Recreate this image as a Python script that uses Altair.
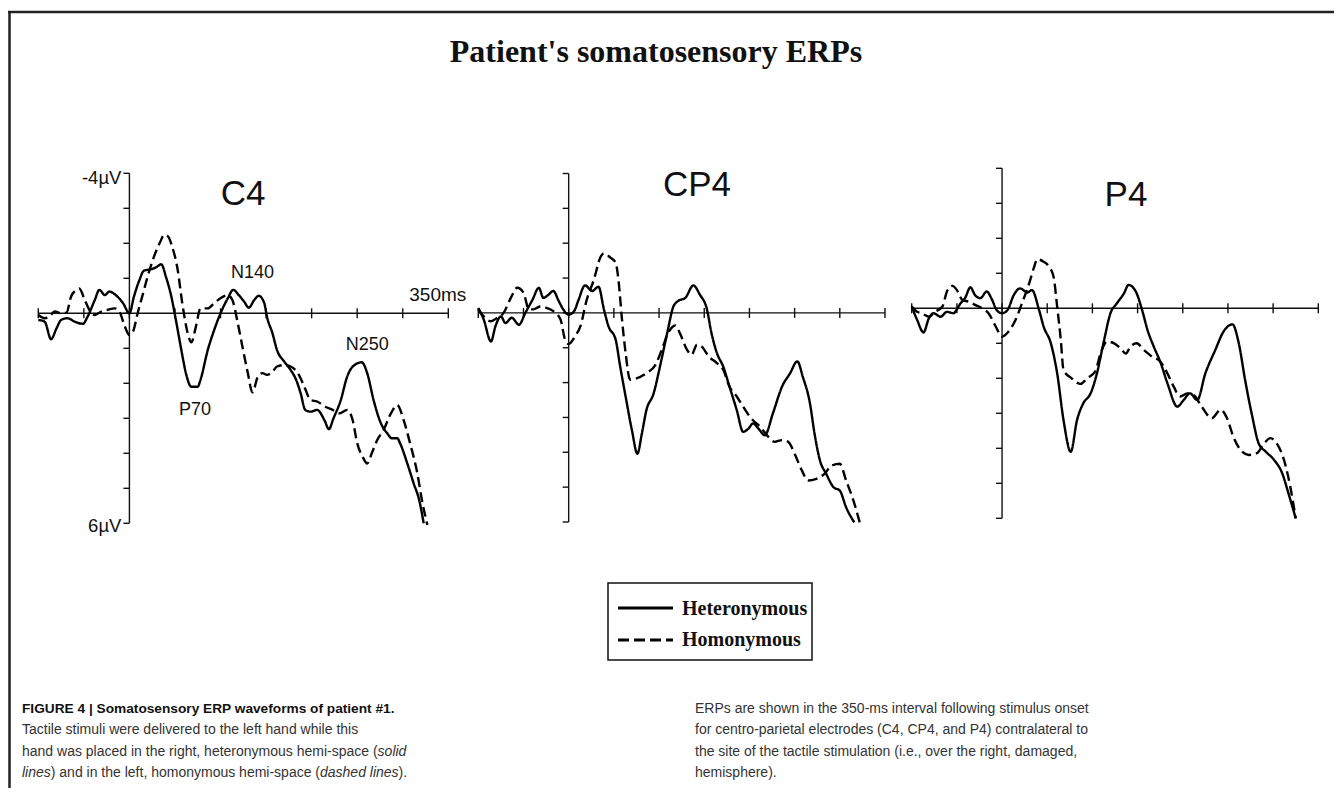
import altair as alt
import pandas as pd

# ---------------- data ----------------
CONDITIONS = ["Heteronymous", "Homonymous"]
TIME_TICKS = [-100, -50, 0, 50, 100, 150, 200, 250, 300, 350]
UV_TICKS = [-4, -3, -2, -1, 0, 1, 2, 3, 4, 5, 6]

C4_HET_T = [-100, -93, -86, -80, -75, -68, -60, -51, -46, -38, -33, -27, -22, -15, -7, 0, 5, 11, 16, 24, 29, 35, 40, 46, 51, 57, 62, 68, 75, 78, 86, 93, 100, 108, 114, 120, 126, 131, 137, 142, 148, 151, 157, 162, 170, 177, 183, 188, 193, 199, 206, 214, 219, 224, 232, 239, 246, 255, 261, 268, 276, 283, 288, 294, 297, 305, 312, 318, 323]
C4_HET_V = [0.19, 0.24, 0.74, 0.43, 0.19, 0.14, 0.24, 0.30, 0.10, -0.38, -0.67, -0.52, -0.62, -0.52, -0.29, 0.0, -0.48, -0.95, -1.22, -1.26, -1.31, -1.40, -1.05, -0.48, 0.19, 1.05, 1.71, 2.10, 2.10, 1.90, 1.05, 0.48, 0.0, -0.43, -0.67, -0.52, -0.33, -0.16, -0.38, -0.50, -0.29, 0.10, 0.57, 1.05, 1.38, 1.62, 1.90, 2.29, 2.76, 2.81, 2.76, 3.05, 3.31, 3.00, 2.48, 1.81, 1.50, 1.40, 1.71, 2.48, 3.14, 3.43, 3.57, 3.57, 3.71, 4.29, 4.86, 5.33, 6.00]
C4_HOM_T = [-100, -93, -88, -82, -75, -69, -64, -58, -55, -49, -44, -38, -31, -24, -16, -11, -5, 0, 4, 9, 15, 20, 27, 34, 38, 42, 47, 53, 58, 64, 68, 73, 78, 86, 93, 100, 108, 113, 119, 124, 130, 135, 141, 146, 151, 157, 162, 170, 177, 186, 192, 199, 206, 215, 223, 230, 239, 245, 250, 256, 261, 266, 272, 279, 287, 294, 301, 308, 316, 321, 327]
C4_HOM_V = [0.05, 0.14, 0.10, -0.05, 0.0, -0.02, -0.48, -0.67, -0.71, -0.38, -0.10, 0.05, -0.05, -0.10, -0.14, -0.05, 0.38, 0.62, 0.52, 0.0, -0.57, -1.05, -1.62, -2.05, -2.24, -2.21, -1.90, -1.24, -0.29, 0.57, 0.83, 0.38, -0.14, -0.14, -0.29, -0.43, -0.52, -0.38, 0.29, 0.95, 1.71, 2.26, 1.81, 1.71, 1.76, 1.67, 1.52, 1.48, 1.52, 1.76, 2.10, 2.48, 2.52, 2.67, 2.76, 2.86, 2.76, 3.05, 3.71, 4.10, 4.29, 4.00, 3.62, 3.33, 2.86, 2.62, 3.05, 3.71, 4.57, 5.33, 6.05]

CP4_HET_T = [-100, -94, -86, -81, -75, -70, -63, -55, -48, -40, -33, -28, -22, -17, -11, -6, 0, 6, 11, 18, 26, 33, 39, 44, 52, 57, 63, 70, 76, 81, 86, 94, 101, 109, 116, 121, 129, 138, 145, 153, 158, 164, 171, 178, 186, 193, 199, 204, 210, 217, 226, 236, 245, 253, 259, 267, 272, 278, 285, 293, 300, 307, 316]
CP4_HET_V = [-0.14, 0.19, 0.82, 0.38, 0.10, 0.29, 0.14, 0.34, 0.0, -0.38, -0.72, -0.43, -0.53, -0.63, -0.34, -0.10, 0.05, -0.05, -0.38, -0.79, -0.63, -0.75, -0.10, 0.38, 0.77, 1.54, 2.40, 3.37, 4.04, 3.46, 2.79, 2.31, 1.54, 0.58, -0.19, -0.34, -0.43, -0.79, -0.53, -0.10, 0.58, 1.15, 1.54, 2.12, 2.79, 3.41, 3.32, 3.17, 3.32, 3.51, 2.88, 2.12, 1.73, 1.39, 1.83, 2.60, 3.46, 4.23, 4.62, 5.00, 5.10, 5.58, 6.01]
CP4_HOM_T = [-100, -94, -86, -79, -72, -64, -57, -50, -44, -39, -31, -24, -17, -9, -4, 0, 7, 13, 20, 28, 35, 39, 46, 52, 55, 59, 63, 68, 75, 86, 96, 103, 110, 118, 123, 131, 136, 142, 147, 155, 164, 171, 178, 186, 193, 202, 212, 221, 228, 236, 243, 250, 258, 265, 274, 283, 291, 300, 307, 315, 322]
CP4_HOM_V = [-0.10, 0.10, 0.24, 0.14, 0.0, -0.43, -0.72, -0.58, -0.10, -0.10, -0.19, -0.14, -0.05, 0.19, 0.77, 0.89, 0.67, 0.38, -0.38, -0.96, -1.59, -1.71, -1.59, -1.44, -0.96, 0.19, 1.15, 1.92, 1.88, 1.73, 1.49, 1.06, 0.58, 0.36, 0.58, 1.06, 1.20, 0.91, 0.96, 1.25, 1.44, 1.63, 2.12, 2.40, 2.69, 3.03, 3.27, 3.56, 3.70, 3.65, 3.70, 4.04, 4.52, 4.81, 4.76, 4.62, 4.38, 4.33, 4.81, 5.38, 6.01]

P4_HET_T = [-100, -94, -87, -81, -76, -68, -61, -54, -46, -41, -35, -30, -24, -17, -11, -6, 0, 6, 13, 20, 28, 33, 41, 46, 54, 61, 68, 76, 83, 90, 98, 105, 113, 120, 127, 135, 140, 148, 155, 161, 168, 175, 183, 194, 201, 208, 216, 225, 236, 245, 255, 262, 269, 277, 284, 292, 301, 310, 317, 325]
P4_HET_V = [-0.05, 0.33, 0.69, 0.29, 0.14, 0.24, 0.10, 0.14, -0.14, -0.29, -0.60, -0.38, -0.29, -0.48, -0.24, 0.05, 0.14, 0.05, -0.38, -0.57, -0.45, -0.52, 0.05, 0.52, 1.00, 1.86, 3.19, 4.10, 3.19, 2.71, 2.43, 1.86, 0.90, 0.14, -0.14, -0.43, -0.67, -0.48, 0.05, 0.62, 1.10, 1.52, 2.14, 2.81, 2.62, 2.43, 2.62, 1.86, 1.19, 0.67, 0.46, 1.00, 2.05, 3.10, 3.86, 4.10, 4.33, 4.71, 5.29, 6.00]
P4_HOM_T = [-100, -94, -89, -81, -74, -66, -61, -55, -50, -44, -37, -30, -22, -15, -7, 0, 7, 15, 22, 30, 35, 39, 46, 52, 57, 61, 65, 68, 77, 87, 94, 103, 109, 116, 124, 131, 137, 142, 149, 157, 166, 175, 183, 190, 197, 205, 212, 221, 232, 242, 249, 256, 264, 273, 282, 290, 297, 304, 312, 319, 325]
P4_HOM_V = [-0.05, 0.10, 0.14, 0.24, 0.10, -0.05, -0.48, -0.64, -0.52, -0.24, -0.19, -0.10, 0.0, 0.14, 0.52, 0.81, 0.67, 0.33, -0.14, -0.71, -1.14, -1.40, -1.33, -1.19, -0.90, -0.05, 0.90, 1.76, 2.00, 2.16, 2.00, 1.81, 1.29, 0.95, 1.00, 1.14, 1.29, 1.10, 1.00, 1.19, 1.38, 1.52, 1.86, 2.24, 2.52, 2.43, 2.48, 2.81, 3.14, 2.90, 3.14, 3.67, 4.05, 4.19, 4.14, 3.86, 3.71, 3.86, 4.33, 5.10, 6.00]

PEAK_LABELS = ["N140", "P70", "N250"]
PEAK_T = [135, 72, 261]
PEAK_V = [-1.15, 2.76, 0.91]

TITLE = "Patient's somatosensory ERPs"
CAPTION_LEFT_BOLD = "FIGURE 4 | Somatosensory ERP waveforms of patient #1."
CAPTION_LEFT_2 = "Tactile stimuli were delivered to the left hand while this"
# (text, italic) runs of the last two left lines
CAPTION_LEFT_3 = [("hand was placed in the right, heteronymous hemi-space (", False), ("solid", True)]
CAPTION_LEFT_4 = [("lines", True), (") and in the left, homonymous hemi-space (", False),
                  ("dashed lines", True), (").", False)]
CAPTION_RIGHT = [
    "ERPs are shown in the 350-ms interval following stimulus onset",
    "for centro-parietal electrodes (C4, CP4, and P4) contralateral to",
    "the site of the tactile stimulation (i.e., over the right, damaged,",
    "hemisphere).",
]

# ---------------- layout / style ----------------
W, H = 1326, 780
INK = "#111111"
ARIAL = "Liberation Sans, Arial, sans-serif"
TIMES = "Liberation Serif, Times New Roman, serif"
ONE = pd.DataFrame({"k": [0]})

# Arial / Liberation Sans advance widths (per 1000 em) to chain the italic runs
_AW = {" ": 278, "(": 333, ")": 333, ",": 278, "-": 333, ".": 278}
_AW.update({c: w for c, w in zip("abcdefghijklmnopqrstuvwxyz",
                                 [556, 556, 500, 556, 556, 278, 556, 556, 222, 222, 500, 222, 833,
                                  556, 556, 556, 556, 333, 500, 278, 556, 500, 722, 500, 500, 500])})


def text_width(s, size):
    return sum(_AW.get(c, 556) for c in s) * size / 1000.0


def txt(s, x, y, size, font, weight="normal", style="normal", align="left", color=INK):
    return alt.Chart(ONE).mark_text(
        text=s, fontSize=size, font=font, fontWeight=weight, fontStyle=style,
        align=align, baseline="middle", color=color,
    ).encode(x=alt.value(x), y=alt.value(y))


def panel(name, het, hom, xr, yr, title_xy, with_labels=False):
    xs = alt.Scale(domain=[-100, 350], range=xr, nice=False, zero=False)
    ys = alt.Scale(domain=[-4, 6], range=yr, nice=False, zero=False)

    def X(v):
        if isinstance(v, str):
            return alt.X(v, scale=xs, axis=None)
        return alt.X(datum=v, scale=xs, axis=None)

    def Y(v):
        if isinstance(v, str):
            return alt.Y(v, scale=ys, axis=None)
        return alt.Y(datum=v, scale=ys, axis=None)

    df = pd.concat([
        pd.DataFrame({"t": het[0], "v": het[1], "cond": CONDITIONS[0]}),
        pd.DataFrame({"t": hom[0], "v": hom[1], "cond": CONDITIONS[1]}),
    ])
    lines = alt.Chart(df).mark_line(color="black", strokeWidth=2.4, interpolate="monotone").encode(
        x=X("t:Q"), y=Y("v:Q"),
        strokeDash=alt.StrokeDash("cond:N", scale=alt.Scale(domain=CONDITIONS, range=[[1, 0], [10, 5]]), legend=None),
        detail="cond:N",
    )
    xt = pd.DataFrame({"tick": TIME_TICKS})
    yt = pd.DataFrame({"tick": UV_TICKS})
    x_axis = alt.Chart(ONE).mark_rule(color=INK, strokeWidth=1.4).encode(
        x=X(-100), x2=alt.X2(datum=350), y=Y(0))
    y_axis = alt.Chart(ONE).mark_rule(color=INK, strokeWidth=1.4).encode(
        x=X(0), y=Y(-4), y2=alt.Y2(datum=6))
    x_ticks = alt.Chart(xt).mark_rule(color=INK, strokeWidth=1.4, yOffset=-5, y2Offset=5).encode(
        x=X("tick:Q"), y=Y(0), y2=alt.Y2(datum=0))
    y_ticks = alt.Chart(yt).mark_rule(color=INK, strokeWidth=1.4, xOffset=-6).encode(
        x=X(0), x2=alt.X2(datum=0), y=Y("tick:Q"))
    title = txt(name, title_xy[0], title_xy[1], 35, ARIAL, align="center")
    layers = [x_axis, y_axis, x_ticks, y_ticks, lines, title]
    if with_labels:
        peaks = pd.DataFrame({"label": PEAK_LABELS, "t": PEAK_T, "v": PEAK_V})
        layers.append(alt.Chart(peaks).mark_text(fontSize=18, font=ARIAL, color=INK, align="center",
                                                 baseline="middle").encode(
            x=X("t:Q"), y=Y("v:Q"), text="label:N"))
        layers.append(alt.Chart(ONE).mark_text(text="350ms", fontSize=19, font=ARIAL, color=INK, align="left",
                                               baseline="middle", dx=-39, dy=-18).encode(x=X(350), y=Y(0)))
        layers.append(alt.Chart(ONE).mark_text(text="-4\u00b5V", fontSize=18.5, font=ARIAL, color=INK, align="right",
                                               baseline="middle", dx=-8, dy=5).encode(x=X(0), y=Y(-4)))
        layers.append(alt.Chart(ONE).mark_text(text="6\u00b5V", fontSize=18.5, font=ARIAL, color=INK, align="right",
                                               baseline="middle", dx=-8, dy=3).encode(x=X(0), y=Y(6)))
    return layers


p1 = panel("C4", (C4_HET_T, C4_HET_V), (C4_HOM_T, C4_HOM_V), [30.3, 440.3], [165.3, 515.3], (235, 186), True)
p2 = panel("CP4", (CP4_HET_T, CP4_HET_V), (CP4_HOM_T, CP4_HOM_V), [470.3, 877.0], [165.5, 514.0], (689, 177))
p3 = panel("P4", (P4_HET_T, P4_HET_V), (P4_HOM_T, P4_HOM_V), [903.7, 1310.3], [160.3, 510.3], (1118, 187))

# frame lines
top_line = alt.Chart(ONE).mark_rule(color="#222222", strokeWidth=2.5).encode(
    x=alt.value(0), x2=alt.value(W), y=alt.value(4))
left_line = alt.Chart(ONE).mark_rule(color="#222222", strokeWidth=2.5).encode(
    x=alt.value(1.5), y=alt.value(4), y2=alt.value(H))

title = txt(TITLE, 648, 44, 32, TIMES, weight="bold", align="center")

# legend
leg_box = alt.Chart(ONE).mark_rect(fill="white", stroke=INK, strokeWidth=1.5).encode(
    x=alt.value(600), x2=alt.value(804), y=alt.value(575), y2=alt.value(652))
leg_solid = alt.Chart(ONE).mark_rule(color="black", strokeWidth=3).encode(
    x=alt.value(610), x2=alt.value(665), y=alt.value(600))
leg_dash = alt.Chart(ONE).mark_rule(color="black", strokeWidth=3, strokeDash=[11, 5]).encode(
    x=alt.value(610), x2=alt.value(665), y=alt.value(632))
leg_t1 = txt(CONDITIONS[0], 674, 601, 20, TIMES, weight="bold")
leg_t2 = txt(CONDITIONS[1], 674, 632, 20, TIMES, weight="bold")

# caption
CAP = 14
CAPC = "#333333"
LX, RX = 14, 687
LY = [701, 722, 744, 765]


def runs(parts, x, y):
    out = []
    for s, it in parts:
        out.append(txt(s, x, y, CAP, ARIAL, style="italic" if it else "normal", color=CAPC))
        x += text_width(s, CAP)
    return out


cap = [
    txt(CAPTION_LEFT_BOLD, LX, LY[0], CAP - 0.3, ARIAL, weight="bold", color="#111111"),
    txt(CAPTION_LEFT_2, LX, LY[1], CAP, ARIAL, color=CAPC),
]
cap += runs(CAPTION_LEFT_3, LX, LY[2])
cap += runs(CAPTION_LEFT_4, LX, LY[3])
for i, line in enumerate(CAPTION_RIGHT):
    cap.append(txt(line, RX, LY[i], CAP, ARIAL, color=CAPC))

chart = alt.layer(
    top_line, left_line, title, *p1, *p2, *p3, leg_box, leg_solid, leg_dash, leg_t1, leg_t2, *cap
).resolve_scale(x="independent", y="independent").properties(
    width=W, height=H, padding=0, autosize=alt.AutoSizeParams(type="none"),
    background="white",
).configure_view(stroke=None)

chart.save("out.html", embed_options={"renderer": "svg", "actions": False})
